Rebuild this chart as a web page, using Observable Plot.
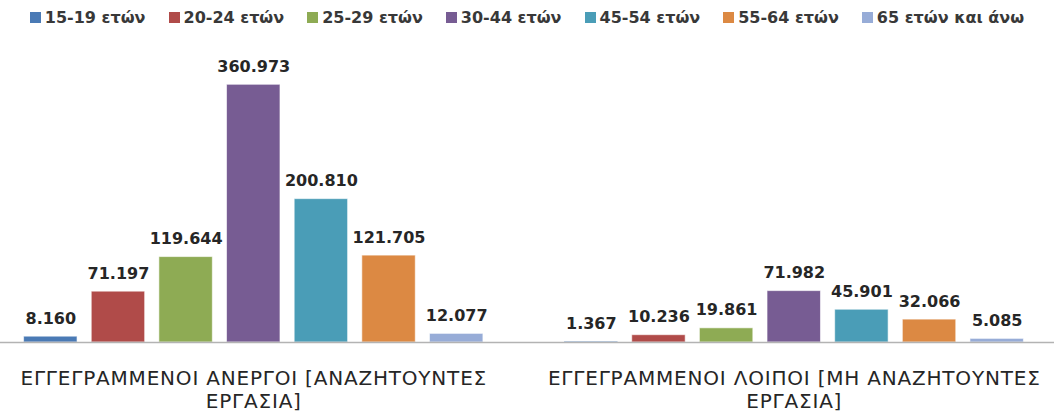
<!DOCTYPE html>
<html><head><meta charset="utf-8">
<script src="https://cdn.jsdelivr.net/npm/d3@7"></script>
<script src="https://cdn.jsdelivr.net/npm/@observablehq/plot@0.6"></script>
<style>
body{margin:0;background:#fff;font-family:"DejaVu Sans",sans-serif;}
#chart{width:1054px;height:412px;overflow:hidden;position:relative;background:#fff}
.legend{display:flex;justify-content:center;align-items:center;height:34px;gap:23px;font-weight:bold;font-size:16px;color:#383838;}
.legend .item{display:flex;align-items:center;gap:4px;white-space:nowrap}
.legend .sw{width:11px;height:11px;display:inline-block}
g[aria-label="fx-axis tick label"] text{letter-spacing:0.8px}
</style></head>
<body><div id="chart"></div>
<script>
const ageGroups = ["15-19 ετών", "20-24 ετών", "25-29 ετών", "30-44 ετών", "45-54 ετών", "55-64 ετών", "65 ετών και άνω"];
const categories = ["ΕΓΓΕΓΡΑΜΜΕΝΟΙ ΑΝΕΡΓΟΙ [ΑΝΑΖΗΤΟΥΝΤΕΣ ΕΡΓΑΣΙΑ]", "ΕΓΓΕΓΡΑΜΜΕΝΟΙ ΛΟΙΠΟΙ [ΜΗ ΑΝΑΖΗΤΟΥΝΤΕΣ ΕΡΓΑΣΙΑ]"];
const unemployedValues = [8160, 71197, 119644, 360973, 200810, 121705, 12077];
const otherValues = [1367, 10236, 19861, 71982, 45901, 32066, 5085];
const colors = ["#4a7ab5", "#b04b49", "#8eab54", "#775c93", "#4a9db7", "#dc8943", "#97acd7"];

const seriesByCategory = [unemployedValues, otherValues];
const data = categories.flatMap((c, i) => ageGroups.map((a, j) => ({category: c, age: a, value: seriesByCategory[i][j]})));

const fmt = d3.formatLocale({decimal: ",", thousands: ".", grouping: [3], currency: ["", "€"]}).format(",d");

const root = document.getElementById("chart");
const legend = document.createElement("div");
legend.className = "legend";
ageGroups.forEach((a, i) => {
  const it = document.createElement("span");
  it.className = "item";
  const sw = document.createElement("span");
  sw.className = "sw";
  sw.style.background = colors[i];
  const t = document.createElement("span");
  t.textContent = a;
  it.appendChild(sw); it.appendChild(t);
  legend.appendChild(it);
});
root.appendChild(legend);

let baseline;
try {
  baseline = Plot.frame({anchor: "bottom", facet: "super", stroke: "#b3b3b3", strokeWidth: 1.5});
} catch (e) {
  baseline = Plot.ruleY([0], {stroke: "#b3b3b3", strokeWidth: 1.5});
}

const chart = Plot.plot({
  width: 1054, height: 378,
  marginLeft: 10, marginRight: 0, marginTop: 0, marginBottom: 70,
  style: {fontFamily: "DejaVu Sans", background: "#fff", color: "#262626"},
  fx: {domain: categories, range: [-17, 1064], padding: 0, round: false, label: null},
  x: {domain: ageGroups, paddingInner: 0.21, paddingOuter: 0.6, round: false, axis: null},
  y: {domain: [0, 431400], axis: null},
  color: {domain: ageGroups, range: colors},
  marks: [
    Plot.barY(data, {fx: "category", x: "age", y: "value", fill: "age", stroke: "#fff", strokeOpacity: 0.6, strokeWidth: 1}),
    baseline,
    Plot.text(data, {fx: "category", x: "age", y: "value", text: d => fmt(d.value), dy: -18, fontSize: 16, fontWeight: "bold", fill: "#262626"}),
    Plot.axisFx({anchor: "bottom", tickSize: 0, tickPadding: 27, fontSize: 20, lineHeight: 1.12, label: null, fill: "#262626",
      tickFormat: d => d.replace(" ΕΡΓΑΣΙΑ]", "\nΕΡΓΑΣΙΑ]")})
  ]
});
root.appendChild(chart);
</script>
</body></html>
